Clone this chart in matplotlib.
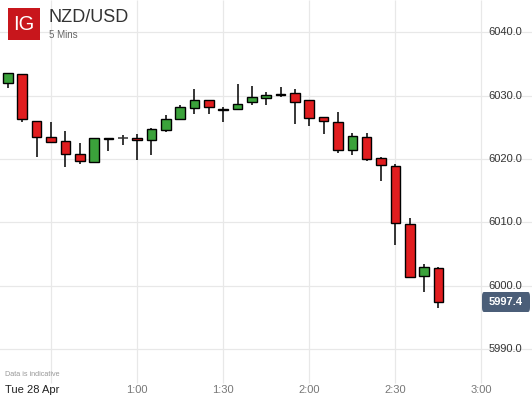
import matplotlib
matplotlib.use("Agg")
import matplotlib.pyplot as plt
from matplotlib.patches import Rectangle, FancyBboxPatch
import numpy as np

# ---- data (minutes after midnight, OHLC) ----
times = [15, 20, 25, 30, 35, 40, 45, 50, 55, 60, 65, 70, 75, 80, 85, 90,
         95, 100, 105, 110, 115, 120, 125, 130, 135, 140, 145, 150, 155, 160, 165]
opens = [6032.0, 6033.4, 6026.0, 6023.5, 6022.9, 6020.8, 6019.5, 6023.3, 6023.25, 6023.3,
         6023.0, 6024.6, 6026.3, 6028.05, 6029.3, 6027.85, 6027.9, 6029.0, 6029.6, 6030.2,
         6030.4, 6029.3, 6026.6, 6025.85, 6021.4, 6023.5, 6020.15, 6018.9, 6009.7, 6001.5, 6002.8]
highs = [6033.6, 6033.4, 6026.0, 6025.9, 6024.5, 6022.6, 6023.3, 6023.3, 6023.8, 6024.0,
         6024.9, 6027.0, 6028.6, 6031.1, 6029.3, 6028.2, 6031.9, 6031.6, 6030.6, 6031.4,
         6031.1, 6029.3, 6026.6, 6027.5, 6024.15, 6024.15, 6020.35, 6019.25, 6010.7, 6003.45, 6002.95]
lows = [6031.15, 6025.9, 6020.4, 6022.7, 6018.7, 6019.2, 6019.5, 6021.2, 6022.15, 6019.85,
        6020.7, 6024.3, 6026.3, 6027.05, 6027.05, 6025.9, 6027.9, 6028.6, 6028.5, 6029.8,
        6025.6, 6025.15, 6024.0, 6020.95, 6020.6, 6019.7, 6016.6, 6006.35, 6001.2, 5999.0, 5996.45]
closes = [6033.6, 6026.3, 6023.5, 6022.7, 6020.8, 6019.7, 6023.3, 6023.2, 6023.25, 6023.0,
          6024.75, 6026.3, 6028.2, 6029.3, 6028.2, 6027.75, 6028.7, 6029.8, 6030.1, 6030.1,
          6029.0, 6026.5, 6026.0, 6021.4, 6023.6, 6020.0, 6019.05, 6009.9, 6001.35, 6002.95, 5997.4]

ytick_vals = [5990, 6000, 6010, 6020, 6030, 6040]
xtick_vals = [60, 90, 120, 150, 180]
xtick_labels = ["1:00", "1:30", "2:00", "2:30", "3:00"]
date_label = "Tue 28 Apr"
last_price = closes[-1]

plt.rcParams['font.family'] = ['Liberation Sans', 'DejaVu Sans']

W, H = 532, 399
fig = plt.figure(figsize=(W / 100, H / 100), dpi=100)
ax = fig.add_axes([0, 0, 1, 1])
ax.set_xlim(12.23, 197.6)
ax.set_ylim(5982.10, 6045.12)
ax.axis('off')

grid_c = '#e8e8e8'
for yv in ytick_vals:
    ax.axhline(yv, color=grid_c, lw=0.9, zorder=0)
for xv in [30] + xtick_vals:
    ax.vlines(xv, 5984.6, 6045.12, color=grid_c, lw=0.9, zorder=0)

green = '#3ba23b'
red = '#e11d1f'
width = 3.35
for t, o, h, l, c in zip(times, opens, highs, lows, closes):
    ax.vlines(t, l, h, color='black', lw=1.1, zorder=2)
    bottom = min(o, c)
    height = abs(c - o)
    if height < 0.05:
        if abs(h - l) > 0 and o == c:
            ax.hlines(o, t - width / 2, t + width / 2, color='#333333', lw=1.1, zorder=3)
            continue
        height = 0.12
        bottom = (o + c) / 2 - 0.06
    fc = green if c > o else red
    ax.add_patch(Rectangle((t - width / 2, bottom), width, height,
                           facecolor=fc, edgecolor='black', lw=1.0, zorder=3))

# y tick labels on the right
for yv in ytick_vals:
    ax.text(522 / W * (197.6 - 12.23) + 12.23, yv, f"{yv:.1f}", ha='right', va='center',
            fontsize=8, color='#333333', zorder=4)

# x tick labels
def px2y(py):
    return 6045.12 - py / H * (6045.12 - 5982.10)

def px2x(px):
    return 12.23 + px / W * (197.6 - 12.23)

for xv, lab in zip(xtick_vals, xtick_labels):
    ax.text(xv, px2y(390), lab, ha='center', va='center', fontsize=8, color='#777777')
ax.text(px2x(5), px2y(390), date_label, ha='left', va='center', fontsize=8, color='#222222')
ax.text(px2x(5), px2y(374.5), "Data is indicative", ha='left', va='center',
        fontsize=5.2, color='#999999')

# last price tag
x0, x1 = px2x(482), px2x(530)
ax.add_patch(FancyBboxPatch((x0, px2y(312)), x1 - x0, px2y(292) - px2y(312),
                            boxstyle="round,pad=0,rounding_size=0.7",
                            facecolor='#4b5e78', edgecolor='none', zorder=5,
                            mutation_aspect=1.0))
ax.text(px2x(506), last_price, f"{last_price:.1f}", ha='center', va='center',
        fontsize=8, color='white', fontweight='bold', zorder=6)

# logo and title
fig.patches.append(Rectangle((8 / W, 1 - 40 / H), 32 / W, 32 / H, transform=fig.transFigure,
                             facecolor='#c8161c', edgecolor='none', zorder=5))
fig.text(24 / W, 1 - 25 / H, "IG", ha='center', va='center', fontsize=14.5,
         color='white', zorder=6)
fig.text(49 / W, 1 - 17 / H, "NZD/USD", ha='left', va='center', fontsize=13, color='#333333')
fig.text(49 / W, 1 - 34.5 / H, "5 Mins", ha='left', va='center', fontsize=7, color='#666666')

fig.savefig("out.png", dpi=100)
